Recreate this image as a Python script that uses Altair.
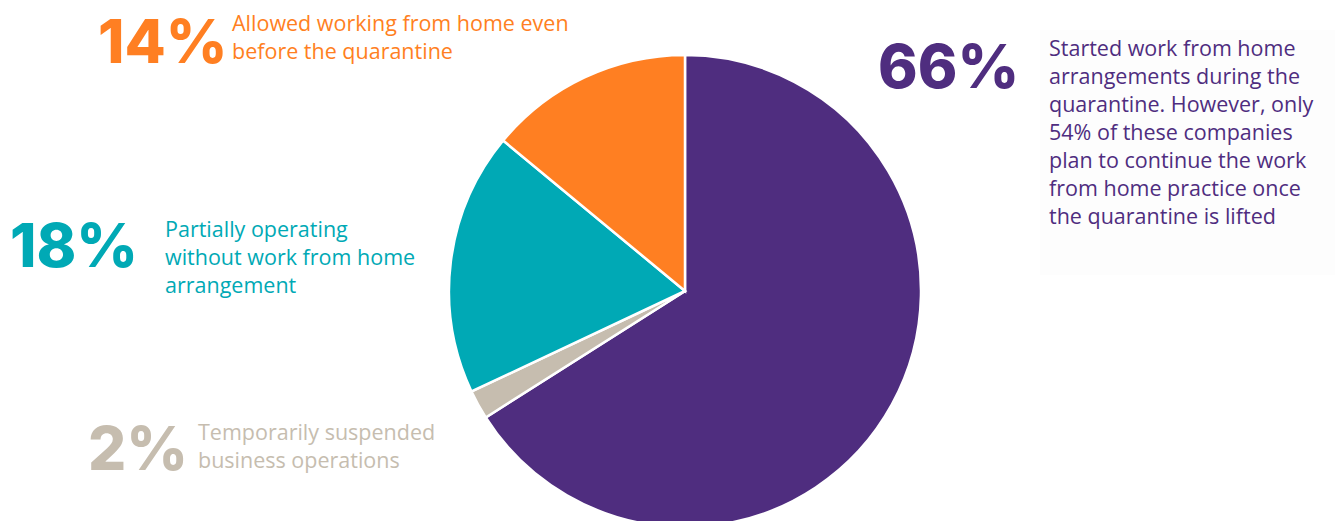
import altair as alt
import pandas as pd

categories = ["Started WFH during quarantine", "Temporarily suspended", "Partially operating", "Allowed WFH before"]
values = [66, 2, 18, 14]
colors = ["#4F2D7F", "#C6BDAF", "#00A9B5", "#FF7F22"]
pct_labels = ["66%", "2%", "18%", "14%"]
descriptions = [
    "Started work from home\narrangements during the\nquarantine. However, only\n54% of these companies\nplan to continue the work\nfrom home practice once\nthe quarantine is lifted",
    "Temporarily suspended\nbusiness operations",
    "Partially operating\nwithout work from home\narrangement",
    "Allowed working from home even\nbefore the quarantine",
]
# layout: pixel anchors for the annotation texts
pct_x = [878, 88, 10, 98]
pct_y = [88, 470, 267, 63]
desc_x = [1049, 198, 165, 232]
desc_y = [56, 440, 237, 31]

df = pd.DataFrame({
    "cat": categories, "value": values, "order": list(range(len(values))),
    "color": colors, "pct": pct_labels, "desc": descriptions,
    "px": pct_x, "py": pct_y, "dx": desc_x, "dy": desc_y,
})

W, H = 1335, 521
CX, CY, R = 685, 291, 236

base = alt.Chart(df)

panel = base.mark_rect(color="#FDFDFD").encode(
    x=alt.value(1040), x2=alt.value(1335), y=alt.value(30), y2=alt.value(275)
).transform_filter("datum.order == 0")

pie = base.mark_arc(outerRadius=R, stroke="white", strokeWidth=2.5).encode(
    theta=alt.Theta("value:Q", stack=True),
    order=alt.Order("order:Q"),
    color=alt.Color("color:N", scale=None),
    x=alt.value(CX), y=alt.value(CY),
)

pct = base.mark_text(font="Inter", fontWeight=800, fontSize=60, align="left",
                     baseline="alphabetic").encode(
    x=alt.X("px:Q", scale=None), y=alt.Y("py:Q", scale=None),
    text="pct:N", color=alt.Color("color:N", scale=None),
)

desc = base.mark_text(font="Open Sans", fontSize=21.5, align="left", baseline="alphabetic",
                      lineBreak="\n", lineHeight=28).encode(
    x=alt.X("dx:Q", scale=None), y=alt.Y("dy:Q", scale=None),
    text="desc:N", color=alt.Color("color:N", scale=None),
)

chart = alt.layer(panel, pie, pct, desc).properties(
    width=W, height=H, padding=0, autosize=alt.AutoSizeParams(type="none"),
    background="white",
).configure_view(stroke=None)

chart.save("out.html", embed_options={"renderer": "svg", "actions": False})
